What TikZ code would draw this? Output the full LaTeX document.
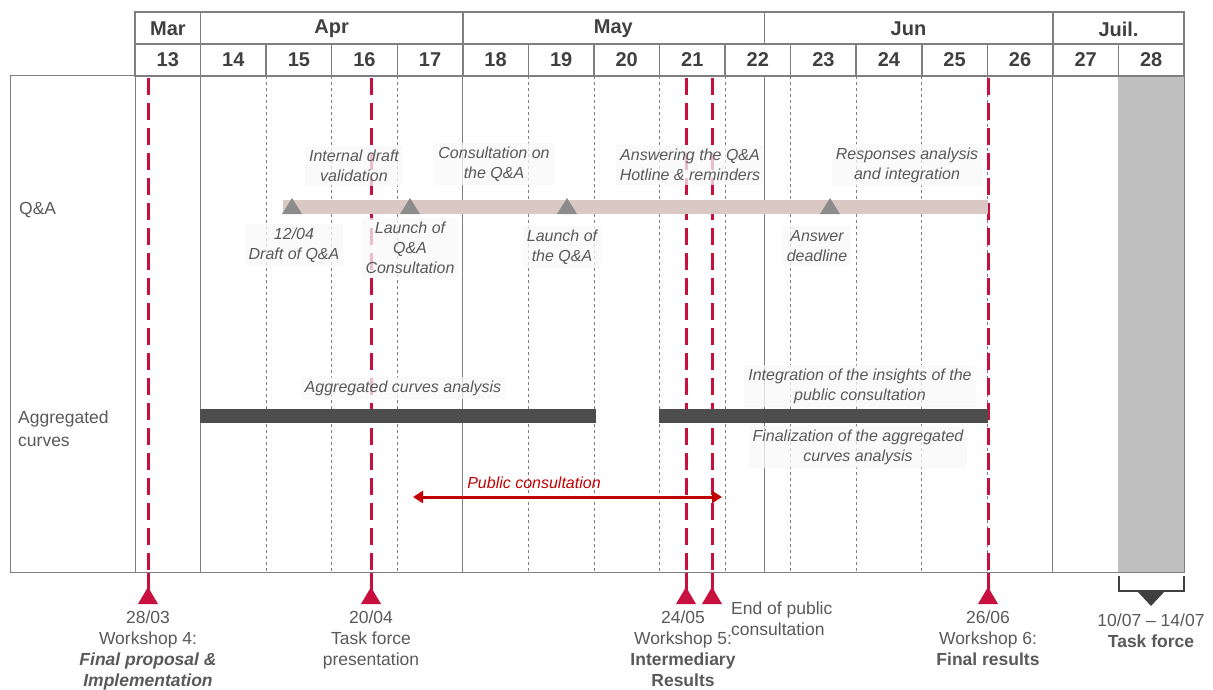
\documentclass[tikz,border=0pt]{standalone}
\usepackage{fontspec}
\setmainfont{Liberation Sans}
\usetikzlibrary{arrows.meta}
\definecolor{hdr}{HTML}{404040}
\definecolor{txt}{HTML}{595959}
\definecolor{framec}{HTML}{7F7F7F}
\definecolor{crim}{HTML}{C8103E}
\definecolor{dred}{HTML}{C00000}
\definecolor{qabar}{HTML}{D9C8C3}
\definecolor{aggbar}{HTML}{4D4D4D}
\definecolor{trig}{HTML}{8C8C8C}
\definecolor{tfbox}{HTML}{BFBFBF}
\definecolor{lblbg}{HTML}{F8F8F8}
\begin{document}
\begin{tikzpicture}[x=1pt,y=-1pt,
  hdrtext/.style={font=\fontsize{20}{22}\selectfont\bfseries, text=hdr, inner sep=0},
  lbl/.style={font=\fontsize{16}{20}\selectfont\itshape, text=txt, align=center, fill=lblbg, fill opacity=0.75, text opacity=1, inner sep=4pt},
  btm/.style={font=\fontsize{17.5}{21}\selectfont, text=txt, align=center, inner sep=0, anchor=north},
  gridsolid/.style={draw=framec, line width=1pt},
  griddash/.style={draw=framec, line width=0.8pt, dash pattern=on 3pt off 3pt},
  redline/.style={draw=crim, line width=3pt, dash pattern=on 17pt off 8pt},
  redstem/.style={draw=crim, line width=3pt},
  rowlbl/.style={font=\fontsize{17.5}{23}\selectfont, text=txt, align=left, anchor=west, inner sep=0}
]
\useasboundingbox (0,0) rectangle (1213,690);

% task force column
\fill[tfbox] (1118.4,76) rectangle (1184,572);

% grid lines in body
\foreach \i in {1,5,14} \draw[gridsolid] ({135+\i*65.5625},76) -- ({135+\i*65.5625},572);
\draw[gridsolid] (764.4,76) -- (764.4,572);
\foreach \i in {2,3,4,6,7,8,9,10,11,12,13} \draw[griddash] ({135+\i*65.5625},76) -- ({135+\i*65.5625},572);

% red milestone lines
\foreach \n/\x in {1/148,2/371,3/686,4/712,5/988}{
  \coordinate (rt\n) at (\x,78);
  \coordinate (rm\n) at (\x,572);
  \coordinate (ra\n) at (\x,590);
  \draw[redline] (rt\n) -- (rm\n);
  \draw[redstem] (rm\n) -- (ra\n);
  \fill[crim] (\x-10,604) -- (\x,587) -- (\x+10,604) -- cycle;
}

% Q&A bar
\fill[qabar] (283,200) rectangle (988,214);
\foreach \x in {292,410,567,830}
  \fill[trig] (\x-10,214) -- (\x,198) -- (\x+10,214) -- cycle;

% aggregated bars
\fill[aggbar] (200,409) rectangle (596,423);
\fill[aggbar] (659,409) rectangle (988,423);

% labels Q&A
\node[lbl] (l1) at (354,166) {Internal draft\\validation};
\node[lbl] (l2) at (494,164) {Consultation on\\the Q\&A};
\node[lbl] (l3) at (690,165) {Answering the Q\&A\\Hotline \& reminders};
\node[lbl] (l4) at (907,165) {Responses analysis\\and integration};
\node[lbl] (l5) at (294,245) {12/04\\Draft of Q\&A};
\node[lbl] (l6) at (410,248) {Launch of\\Q\&A\\Consultation};
\node[lbl] (l7) at (562,247) {Launch of\\the Q\&A};
\node[lbl] (l8) at (817,246) {Answer\\deadline};

% labels aggregated
\node[lbl] (a1) at (403,388) {Aggregated curves analysis};
\node[lbl] (a2) at (860,386) {Integration of the insights of the\\public consultation};
\node[lbl] (a3) at (858,447) {Finalization of the aggregated\\curves analysis};

% public consultation arrow
\coordinate (pcL) at (413,497);
\coordinate (pcR) at (722,497);
\draw[dred, line width=3pt, {Triangle[length=10pt,width=12pt]}-{Triangle[length=10pt,width=12pt]}] (pcL) -- (pcR);
\node[font=\fontsize{16}{20}\selectfont\itshape, text=dred, inner sep=0] (pc) at (534,483) {Public consultation};

% row labels
\node[rowlbl] (qa) at (19,210) {Q\&A};
\node[rowlbl] (ag) at (18,429) {Aggregated\\curves};

% frame
\draw[framec, line width=1pt] (10,76) rectangle (1184,572);
\draw[framec, line width=1pt] (135,76) -- (135,572);

% header
\draw[framec, line width=1.5pt] (135,12) rectangle (1184,76);
\draw[framec, line width=1.5pt] (135,44) -- (1184,44);
\foreach \x in {200.6,462.8,764.4,1052.9} \draw[framec, line width=1.5pt] (\x,12) -- (\x,44);
\foreach \i in {1,...,15} \draw[framec, line width=1.5pt] ({135+\i*65.5625},44) -- ({135+\i*65.5625},76);
\node[hdrtext] (m1) at (168,29) {Mar};
\node[hdrtext] (m2) at (331.7,29) {Apr};
\node[hdrtext] (m3) at (613.4,29) {May};
\node[hdrtext] (m4) at (908.5,29) {Jun};
\node[hdrtext] (m5) at (1118.5,29) {Juil.};
\foreach \i in {0,...,15}{
  \pgfmathtruncatemacro{\wk}{13+\i}
  \node[hdrtext] (w\i) at ({135+(\i+0.5)*65.5625},60) {\wk};
}

% bottom labels
\node[btm] (b1) at (148,611) {28/03\\Workshop 4:\\\textbf{\textit{Final proposal \&}}\\\textbf{\textit{Implementation}}};
\node[btm] (b2) at (371,611) {20/04\\Task force\\presentation};
\node[btm] (b3) at (683,611) {24/05\\Workshop 5:\\\textbf{Intermediary}\\\textbf{Results}};
\node[btm, anchor=north west, align=left] (b4) at (731,602) {End of public\\consultation};
\node[btm] (b5) at (988,611) {26/06\\Workshop 6:\\\textbf{Final results}};
\node[btm] (b6) at (1151,614) {10/07 – 14/07\\\textbf{Task force}};

% task force bracket
\draw[hdr, line width=1.5pt] (1119,576) -- (1119,591) -- (1184,591) -- (1184,576);
\fill[hdr] (1137,591) -- (1165,591) -- (1151,606) -- cycle;
\end{tikzpicture}
\end{document}
